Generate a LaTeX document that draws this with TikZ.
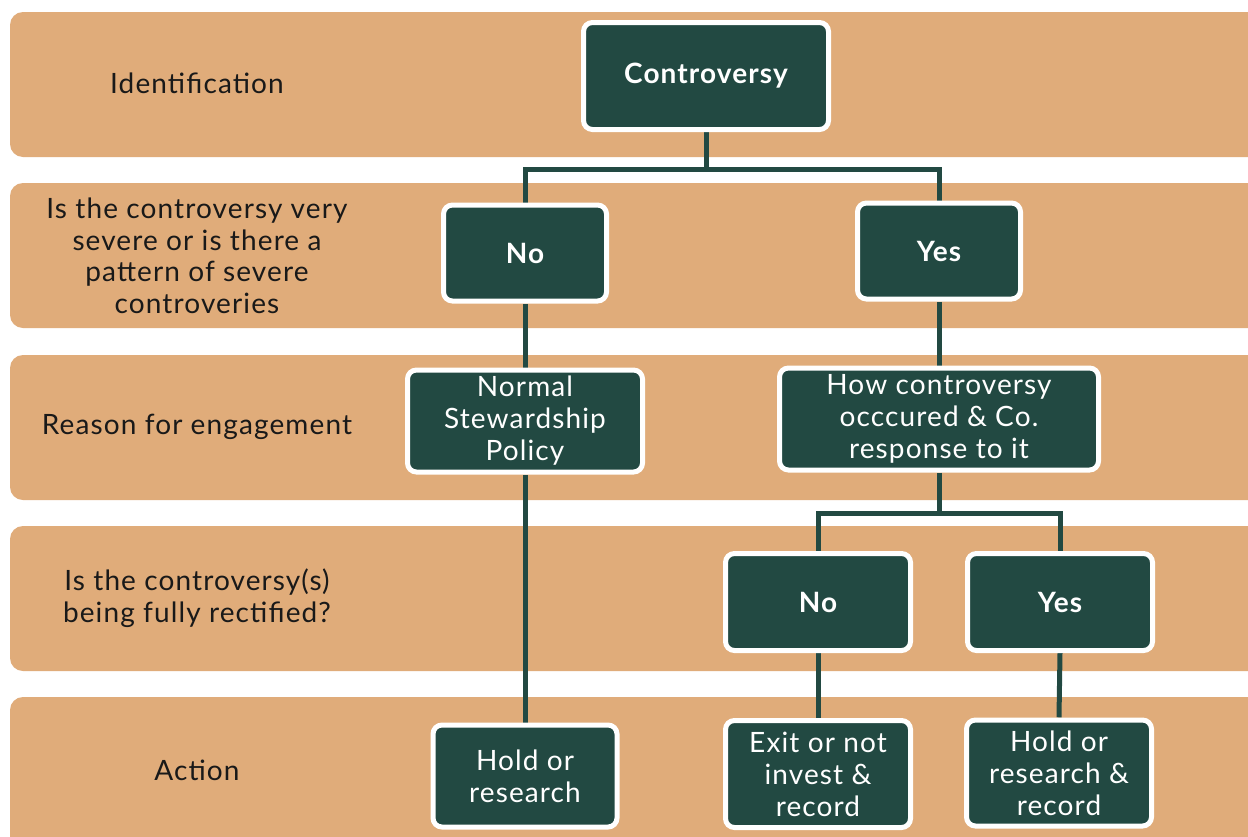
\documentclass[tikz,border=0pt]{standalone}
\usepackage{fontspec}
\setmainfont{Lato}[LetterSpace=4]
\definecolor{tan}{RGB}{224,172,122}
\definecolor{dgreen}{RGB}{34,73,66}
\pgfdeclarelayer{bg}
\pgfdeclarelayer{lines}
\pgfsetlayers{bg,lines,main}
\begin{document}
\begin{tikzpicture}[x=1pt,y=-1pt,
  band/.style={fill=tan, rounded corners=13pt},
  lab/.style={align=center, text=black!90, font=\fontsize{28}{31.5}\selectfont},
  box/.style={rectangle, rounded corners=9pt, fill=dgreen, draw=white, line width=5pt,
    text=white, align=center, inner sep=2pt, font=\fontsize{28}{32}\selectfont},
  boldbox/.style={box, font=\fontsize{28}{32}\selectfont\bfseries},
  conn/.style={draw=dgreen, line width=5pt}]
\useasboundingbox (0,0) rectangle (1248,836);
\begin{pgfonlayer}{bg}
\clip (0,0) rectangle (1248,836);
\fill[white] (0,0) rectangle (1248,836);
\fill[band] (10,12) rectangle (1275,157);
\fill[band] (10,183) rectangle (1275,328);
\fill[band] (10,355) rectangle (1275,500);
\fill[band] (10,526) rectangle (1275,671);
\fill[band] (10,697) rectangle (1275,860);
\end{pgfonlayer}

\node[lab] (l1) at (197,83) {Identification};
\node[lab] (l2) at (197,256) {Is the controversy very\\severe or is there a\\pattern of severe\\controveries};
\node[lab] (l3) at (197,427) {Reason for engagement};
\node[lab] (l4) at (197,598) {Is the controversy(s)\\being fully rectified?};
\node[lab] (l5) at (197,770) {Action};

\node[boldbox, minimum width=245pt, minimum height=107pt] (ctrl) at (706,76) {Controversy};
\node[boldbox, minimum width=163pt, minimum height=96pt] (no1) at (525,253) {No};
\node[boldbox, minimum width=163pt, minimum height=96pt] (yes1) at (939,251) {Yes};
\node[box, minimum width=235pt, minimum height=102pt] (norm) at (525,421) {Normal\\Stewardship\\Policy};
\node[box, minimum width=319pt, minimum height=102pt] (how) at (939,419) {How controversy\\occcured \& Co.\\response to it};
\node[boldbox, minimum width=185pt, minimum height=97pt] (no2) at (818,602) {No};
\node[boldbox, minimum width=185pt, minimum height=97pt] (yes2) at (1060,602) {Yes};
\node[box, minimum width=184pt, minimum height=102pt] (hold) at (525,776) {Hold or\\research};
\node[box, minimum width=185pt, minimum height=107pt] (exit) at (818,774) {Exit or not\\invest \&\\record};
\node[box, minimum width=185pt, minimum height=106pt] (holdr) at (1059,773) {Hold or\\research \&\\record};

\begin{pgfonlayer}{lines}
\draw[conn] (ctrl.south) -- ++(0,37) -| (no1.north);
\draw[conn] (ctrl.south) -- ++(0,37) -| (yes1.north);
\draw[conn] (no1.south) -- (norm.north);
\draw[conn] (norm.south) -- (hold.north);
\draw[conn] (yes1.south) -- (how.north);
\draw[conn] (how.south) -- ++(0,41) -| (no2.north);
\draw[conn] (how.south) -- ++(0,41) -| (yes2.north);
\draw[conn] (no2.south) -- (exit.north);
\draw[conn] (yes2.south) -- (holdr.north);
\end{pgfonlayer}
\end{tikzpicture}
\end{document}
